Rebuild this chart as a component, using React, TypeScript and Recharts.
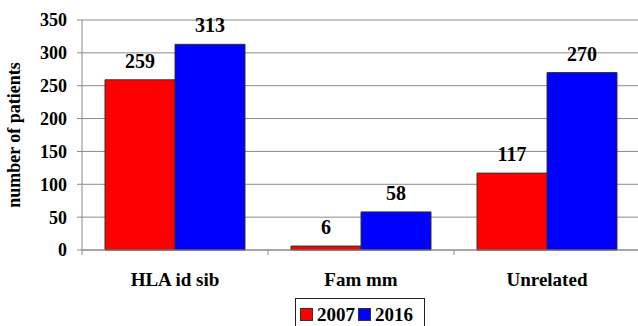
import React from 'react';
import { BarChart, Bar, XAxis, YAxis, CartesianGrid, LabelList } from 'recharts';

const categories = ['HLA id sib', 'Fam mm', 'Unrelated'];
const values2007 = [259, 6, 117];
const values2016 = [313, 58, 270];
const yTicks = [0, 50, 100, 150, 200, 250, 300, 350];

const series = [
  { key: 'y2007', name: '2007', color: '#ff0000' },
  { key: 'y2016', name: '2016', color: '#0000ff' },
];

const data = categories.map((name, i) => ({
  name,
  y2007: values2007[i],
  y2016: values2016[i],
}));

const font = 'Liberation Serif, Tinos, Times New Roman, DejaVu Serif, serif';
const tickStyle = { fill: '#000', fontSize: 18, fontWeight: 700, fontFamily: font };

// category label plus a small separator tick at the left edge of each band
const CategoryTick = (props: any) => {
  const { x, y, payload } = props;
  const half = payload.offset || 0;
  return (
    <g>
      <line x1={x - half} x2={x - half} y1={y} y2={y + 5} stroke="#8a8a8a" />
      <text x={x} y={y + 36} textAnchor="middle" fill="#000" fontSize={19} fontWeight={700} fontFamily={font}>
        {payload.value}
      </text>
    </g>
  );
};

export default function App() {
  return (
    <div style={{ position: 'absolute', left: 0, top: 0, width: 638, height: 326, overflow: 'hidden', background: '#fff', fontFamily: font }}>
      <BarChart
        width={650}
        height={300}
        data={data}
        margin={{ top: 20, right: 10, left: 0, bottom: 0 }}
        barCategoryGap={23}
        barGap={0}
      >
        <CartesianGrid vertical={false} stroke="#8a8a8a" strokeWidth={1} />
        <XAxis
          dataKey="name"
          height={50}
          tickLine={false}
          tickSize={0}
          tickMargin={0}
          axisLine={{ stroke: '#8a8a8a' }}
          tick={<CategoryTick />}
        />
        <YAxis
          width={82}
          domain={[0, 350]}
          ticks={yTicks}
          interval={0}
          tickSize={5}
          tickMargin={10}
          axisLine={{ stroke: '#8a8a8a' }}
          tickLine={{ stroke: '#8a8a8a' }}
          tick={tickStyle}
          label={{
            value: 'number of patients',
            angle: -90,
            position: 'insideLeft',
            offset: 14,
            style: { textAnchor: 'middle', fill: '#000', fontSize: 18, fontWeight: 700, fontFamily: font },
          }}
        />
        {series.map((s) => (
          <Bar key={s.key} dataKey={s.key} name={s.name} fill={s.color} stroke="#333" strokeWidth={1} isAnimationActive={false}>
            <LabelList
              dataKey={s.key}
              position="top"
              offset={12}
              style={{ fill: '#000', fontSize: 20, fontWeight: 700, fontFamily: font }}
            />
          </Bar>
        ))}
      </BarChart>
      <div
        style={{
          position: 'absolute',
          left: 295,
          top: 298,
          width: 130,
          height: 40,
          border: '1px solid #222',
          boxSizing: 'border-box',
          display: 'flex',
          alignItems: 'flex-start',
          paddingTop: 8,
          paddingLeft: 4,
          fontFamily: font,
          fontWeight: 700,
          fontSize: 19,
          lineHeight: '15px',
        }}
      >
        {series.map((s) => (
          <span key={s.key} style={{ display: 'flex', alignItems: 'center', marginRight: 3, height: 15 }}>
            <span style={{ display: 'inline-block', width: 11, height: 11, background: s.color, border: '1px solid #333', marginRight: 4 }} />
            {s.name}
          </span>
        ))}
      </div>
    </div>
  );
}
